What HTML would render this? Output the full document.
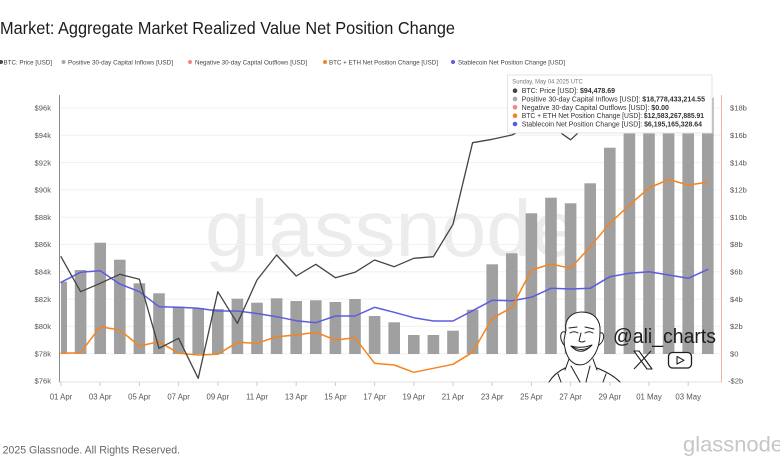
<!DOCTYPE html>
<html>
<head>
<meta charset="utf-8">
<style>
  html,body{margin:0;padding:0;background:#fff;}
  body{width:780px;height:470px;overflow:hidden;}
  svg{display:block;font-family:"Liberation Sans",Arial,sans-serif;}
</style>
</head>
<body>
<svg width="780" height="470" viewBox="0 0 780 470" xmlns="http://www.w3.org/2000/svg">
  <rect x="0" y="0" width="780" height="470" fill="#ffffff"/>

  <!-- Title -->
  <text x="0" y="34" font-size="17.5" fill="#1c1c1c" textLength="455" lengthAdjust="spacingAndGlyphs">Market: Aggregate Market Realized Value Net Position Change</text>

  <!-- Legend -->
  <g font-size="6.5" fill="#444">
    <circle cx="1" cy="62" r="2" fill="#4a4a4a"/>
    <text x="3.5" y="64.3" textLength="48.5" lengthAdjust="spacingAndGlyphs">BTC: Price [USD]</text>
    <circle cx="63.5" cy="62" r="2" fill="#a8a8a8"/>
    <text x="68" y="64.3" textLength="105" lengthAdjust="spacingAndGlyphs">Positive 30-day Capital Inflows [USD]</text>
    <circle cx="190" cy="62" r="2" fill="#f08585"/>
    <text x="195" y="64.3" textLength="112" lengthAdjust="spacingAndGlyphs">Negative 30-day Capital Outflows [USD]</text>
    <circle cx="325" cy="62" r="2" fill="#f5841f"/>
    <text x="329" y="64.3" textLength="109" lengthAdjust="spacingAndGlyphs">BTC + ETH Net Position Change [USD]</text>
    <circle cx="453" cy="62" r="2" fill="#5b5be6"/>
    <text x="458" y="64.3" textLength="107" lengthAdjust="spacingAndGlyphs">Stablecoin Net Position Change [USD]</text>
  </g>

  <!-- Watermark -->
  <text x="205" y="256" font-size="80" fill="#ececec" textLength="372" lengthAdjust="spacingAndGlyphs">glassnode</text>

  <!-- Gridlines -->
  <g stroke="#f0f0f0" stroke-width="1">
    <line x1="60" y1="108" x2="722" y2="108"/>
    <line x1="60" y1="135.3" x2="722" y2="135.3"/>
    <line x1="60" y1="162.6" x2="722" y2="162.6"/>
    <line x1="60" y1="189.9" x2="722" y2="189.9"/>
    <line x1="60" y1="217.2" x2="722" y2="217.2"/>
    <line x1="60" y1="244.5" x2="722" y2="244.5"/>
    <line x1="60" y1="271.8" x2="722" y2="271.8"/>
    <line x1="60" y1="299.1" x2="722" y2="299.1"/>
    <line x1="60" y1="326.4" x2="722" y2="326.4"/>
    <line x1="60" y1="353.7" x2="722" y2="353.7"/>
  </g>

  <!-- Bars -->
  <g fill="#a0a0a0">
    <rect x="61" y="281.7" width="6" height="72.3"/>
    <rect x="74.8" y="270" width="11.6" height="84"/>
    <rect x="94.4" y="242.7" width="11.6" height="111.3"/>
    <rect x="114" y="259.7" width="11.6" height="94.3"/>
    <rect x="133.6" y="283.3" width="11.6" height="70.7"/>
    <rect x="153.2" y="293.3" width="11.6" height="60.7"/>
    <rect x="172.8" y="306.7" width="11.6" height="47.3"/>
    <rect x="192.4" y="308" width="11.6" height="46"/>
    <rect x="212" y="309" width="11.6" height="45"/>
    <rect x="231.6" y="298.7" width="11.6" height="55.3"/>
    <rect x="251.2" y="302.7" width="11.6" height="51.3"/>
    <rect x="270.8" y="298.3" width="11.6" height="55.7"/>
    <rect x="290.4" y="301" width="11.6" height="53"/>
    <rect x="310" y="300.3" width="11.6" height="53.7"/>
    <rect x="329.6" y="302" width="11.6" height="52"/>
    <rect x="349.2" y="299" width="11.6" height="55"/>
    <rect x="368.8" y="316" width="11.6" height="38"/>
    <rect x="388.4" y="322.3" width="11.6" height="31.7"/>
    <rect x="408" y="335" width="11.6" height="19"/>
    <rect x="427.6" y="335" width="11.6" height="19"/>
    <rect x="447.2" y="330.7" width="11.6" height="23.3"/>
    <rect x="466.8" y="309.7" width="11.6" height="44.3"/>
    <rect x="486.4" y="264.3" width="11.6" height="89.7"/>
    <rect x="506" y="253.3" width="11.6" height="100.7"/>
    <rect x="525.6" y="213.3" width="11.6" height="140.7"/>
    <rect x="545.2" y="197.7" width="11.6" height="156.3"/>
    <rect x="564.8" y="203.3" width="11.6" height="150.7"/>
    <rect x="584.4" y="183.3" width="11.6" height="170.7"/>
    <rect x="604" y="147.7" width="11.6" height="206.3"/>
    <rect x="623.6" y="120" width="11.6" height="234"/>
    <rect x="643.2" y="110" width="11.6" height="244"/>
    <rect x="662.8" y="105" width="11.6" height="249"/>
    <rect x="682.4" y="100" width="11.6" height="254"/>
    <rect x="702" y="97.7" width="11.6" height="256.3"/>
  </g>

  <!-- Axes -->
  <line x1="59.5" y1="95" x2="59.5" y2="382.5" stroke="#8a8a8a" stroke-width="1"/>
  <line x1="59.5" y1="382" x2="722" y2="382" stroke="#e2e2e2" stroke-width="1"/>
  <line x1="721.5" y1="95" x2="721.5" y2="382.5" stroke="#f3b4a4" stroke-width="1"/>
  <g stroke="#cccccc" stroke-width="1">
    <line x1="61" y1="382" x2="61" y2="386"/>
    <line x1="100.2" y1="382" x2="100.2" y2="386"/>
    <line x1="139.4" y1="382" x2="139.4" y2="386"/>
    <line x1="178.6" y1="382" x2="178.6" y2="386"/>
    <line x1="217.8" y1="382" x2="217.8" y2="386"/>
    <line x1="257" y1="382" x2="257" y2="386"/>
    <line x1="296.2" y1="382" x2="296.2" y2="386"/>
    <line x1="335.4" y1="382" x2="335.4" y2="386"/>
    <line x1="374.6" y1="382" x2="374.6" y2="386"/>
    <line x1="413.8" y1="382" x2="413.8" y2="386"/>
    <line x1="453" y1="382" x2="453" y2="386"/>
    <line x1="492.2" y1="382" x2="492.2" y2="386"/>
    <line x1="531.4" y1="382" x2="531.4" y2="386"/>
    <line x1="570.6" y1="382" x2="570.6" y2="386"/>
    <line x1="609.8" y1="382" x2="609.8" y2="386"/>
    <line x1="649" y1="382" x2="649" y2="386"/>
    <line x1="688.2" y1="382" x2="688.2" y2="386"/>
  </g>

  <!-- Left axis labels -->
  <g font-size="7.6" fill="#555" text-anchor="end">
    <text x="51" y="110.7">$96k</text>
    <text x="51" y="138">$94k</text>
    <text x="51" y="165.3">$92k</text>
    <text x="51" y="192.6">$90k</text>
    <text x="51" y="219.9">$88k</text>
    <text x="51" y="247.2">$86k</text>
    <text x="51" y="274.5">$84k</text>
    <text x="51" y="301.8">$82k</text>
    <text x="51" y="329.1">$80k</text>
    <text x="51" y="356.4">$78k</text>
    <text x="51" y="383.7">$76k</text>
  </g>

  <!-- Right axis labels -->
  <g font-size="7.6" fill="#555">
    <text x="730" y="110.7">$18b</text>
    <text x="730" y="138">$16b</text>
    <text x="730" y="165.3">$14b</text>
    <text x="730" y="192.6">$12b</text>
    <text x="730" y="219.9">$10b</text>
    <text x="730" y="247.2">$8b</text>
    <text x="730" y="274.5">$6b</text>
    <text x="730" y="301.8">$4b</text>
    <text x="730" y="329.1">$2b</text>
    <text x="730" y="356.4">$0</text>
    <text x="728" y="383.7">-$2b</text>
  </g>

  <!-- X labels -->
  <g font-size="7.8" fill="#555" text-anchor="middle">
    <text x="61" y="399.5">01 Apr</text>
    <text x="100.2" y="399.5">03 Apr</text>
    <text x="139.4" y="399.5">05 Apr</text>
    <text x="178.6" y="399.5">07 Apr</text>
    <text x="217.8" y="399.5">09 Apr</text>
    <text x="257" y="399.5">11 Apr</text>
    <text x="296.2" y="399.5">13 Apr</text>
    <text x="335.4" y="399.5">15 Apr</text>
    <text x="374.6" y="399.5">17 Apr</text>
    <text x="413.8" y="399.5">19 Apr</text>
    <text x="453" y="399.5">21 Apr</text>
    <text x="492.2" y="399.5">23 Apr</text>
    <text x="531.4" y="399.5">25 Apr</text>
    <text x="570.6" y="399.5">27 Apr</text>
    <text x="609.8" y="399.5">29 Apr</text>
    <text x="649" y="399.5">01 May</text>
    <text x="688.2" y="399.5">03 May</text>
  </g>

  <!-- Series lines -->
  <g fill="none" stroke-linejoin="round" stroke-linecap="round">
    <polyline stroke="#5d5ce0" stroke-width="1.5" points="61,282.3 80.6,272.3 100.2,270.7 119.8,284 139.4,291.7 159,306.7 178.6,307.3 198.2,308.3 217.8,311 237.4,311 257,313.5 276.6,316.7 296.2,320.7 315.8,322.7 335.4,316 355,316 374.6,307.3 394.2,312.3 413.8,317.7 433.4,321 453,321 472.6,310.7 492.2,300.3 511.8,300.7 531.4,297.3 551,288.3 570.6,289 590.2,288.3 609.8,276.7 629.4,273.3 649,271.7 668.6,275 688.2,278.3 707.8,269.4"/>
    <polyline stroke="#f5841f" stroke-width="1.5" points="61,353.3 80.6,352.7 100.2,326.7 119.8,330 139.4,346 159,341.7 178.6,353.3 198.2,355 217.8,354.3 237.4,342.3 257,343.3 276.6,336.7 296.2,335 315.8,332.3 335.4,340 355,337.7 374.6,363.3 394.2,365 413.8,372.3 433.4,368.3 453,364.3 472.6,352.3 492.2,318.3 511.8,307.5 531.4,270 551,264 570.6,268.3 590.2,246.7 609.8,223.3 629.4,205 649,188 668.6,179.5 688.2,185 707.8,182.3"/>
    <polyline stroke="#444444" stroke-width="1.3" points="61,256.7 80.6,291.7 100.2,283.3 119.8,274.3 139.4,279.3 159,348.3 178.6,338.3 198.2,378.3 217.8,291.7 237.4,323.3 257,280 276.6,255 296.2,276 315.8,264.3 335.4,277.7 355,272.3 374.6,260 394.2,266.7 413.8,258.3 433.4,256.7 453,224.3 472.6,142.7 492.2,139.3 511.8,135 531.4,125.7 551,126 570.6,139.8 590.2,121.6 609.8,131 629.4,132 649,101 668.6,96 688.2,109 707.8,128.8"/>
  </g>

  <!-- Avatar sketch -->
  <g fill="none" stroke="#1e1e1e" stroke-width="1" stroke-linecap="round" stroke-linejoin="round">
    <path d="M566,330 C564,319 572,312 582,312 C594,312 601,320 600,332 C600,345 596,356 588,362 C583,366 576,366 571,361 C566,356 564,346 564,340 Z" fill="#ffffff"/>
    <path d="M565,332 C560,330 559,339 564,345"/>
    <path d="M600,333 C605,331 605,341 599,345"/>
    <path d="M569,328 L577,327"/>
    <path d="M585,327 L594,329"/>
    <path d="M570,333 Q574,330.5 578,333"/>
    <path d="M585,333 Q589,330.5 593,333"/>
    <path d="M581,333 L579,341 Q582,343 585,341"/>
    <path d="M571,346 Q581,357 592,345 Q581,349 571,346 Z" fill="#ffffff"/>
    <path d="M573,347 Q581,352 590,347"/>
    <path d="M569,359 L565,370"/>
    <path d="M593,359 L597,370"/>
    <path d="M565,368 C557,372 552,377 549,382"/>
    <path d="M597,368 C607,372 615,377 620,382"/>
    <path d="M571,366 L580,382"/>
    <path d="M590,366 L586,382"/>
    <path d="M558,374 L561,382"/>
    <path d="M606,374 L603,382"/>
  </g>
  <text x="613" y="343" font-size="20" fill="#1e1e1e" textLength="103" lengthAdjust="spacingAndGlyphs">@ali_charts</text>
  <!-- X logo -->
  <g stroke="#1e1e1e" stroke-width="1.1" fill="#ffffff" stroke-linejoin="round">
    <path d="M634,351 L639,351 L652,369 L647,369 Z"/>
    <line x1="651" y1="351" x2="634" y2="369"/>
  </g>
  <!-- YouTube logo -->
  <rect x="668.5" y="352.5" width="23" height="15.5" rx="4" ry="4" fill="#ffffff" stroke="#1e1e1e" stroke-width="1.3"/>
  <path d="M677,356.5 L684,360.3 L677,364 Z" fill="none" stroke="#1e1e1e" stroke-width="1.1" stroke-linejoin="round"/>

  <!-- Tooltip -->
  <rect x="507.5" y="75" width="204.5" height="58" fill="#ffffff" stroke="#e3e3e3" stroke-width="1"/>
  <text x="512.3" y="83.5" font-size="6" fill="#777" textLength="70.5" lengthAdjust="spacingAndGlyphs">Sunday, May 04 2025 UTC</text>
  <g font-size="7" fill="#333">
    <circle cx="515" cy="90.7" r="2.3" fill="#444"/>
    <text x="521.7" y="93.2" textLength="93.3" lengthAdjust="spacingAndGlyphs">BTC: Price [USD]: <tspan font-weight="bold">$94,478.69</tspan></text>
    <circle cx="515" cy="99" r="2.3" fill="#a8a8a8"/>
    <text x="521.7" y="101.5" textLength="183.3" lengthAdjust="spacingAndGlyphs">Positive 30-day Capital Inflows [USD]: <tspan font-weight="bold">$18,778,433,214.55</tspan></text>
    <circle cx="515" cy="107.3" r="2.3" fill="#f08585"/>
    <text x="521.7" y="109.8" textLength="147.3" lengthAdjust="spacingAndGlyphs">Negative 30-day Capital Outflows [USD]: <tspan font-weight="bold">$0.00</tspan></text>
    <circle cx="515" cy="115.7" r="2.3" fill="#f5841f"/>
    <text x="521.7" y="118.2" textLength="182.3" lengthAdjust="spacingAndGlyphs">BTC + ETH Net Position Change [USD]: <tspan font-weight="bold">$12,583,267,885.91</tspan></text>
    <circle cx="515" cy="124" r="2.3" fill="#5b5be6"/>
    <text x="521.7" y="126.5" textLength="180.3" lengthAdjust="spacingAndGlyphs">Stablecoin Net Position Change [USD]: <tspan font-weight="bold">$6,195,165,328.64</tspan></text>
  </g>

  <!-- Footer -->
  <text x="-8" y="453.5" font-size="11" fill="#666" textLength="188" lengthAdjust="spacingAndGlyphs">© 2025 Glassnode. All Rights Reserved.</text>
  <text x="683" y="451.5" font-size="21.5" fill="#c6c6c6" textLength="100" lengthAdjust="spacingAndGlyphs">glassnode</text>
</svg>
</body>
</html>
